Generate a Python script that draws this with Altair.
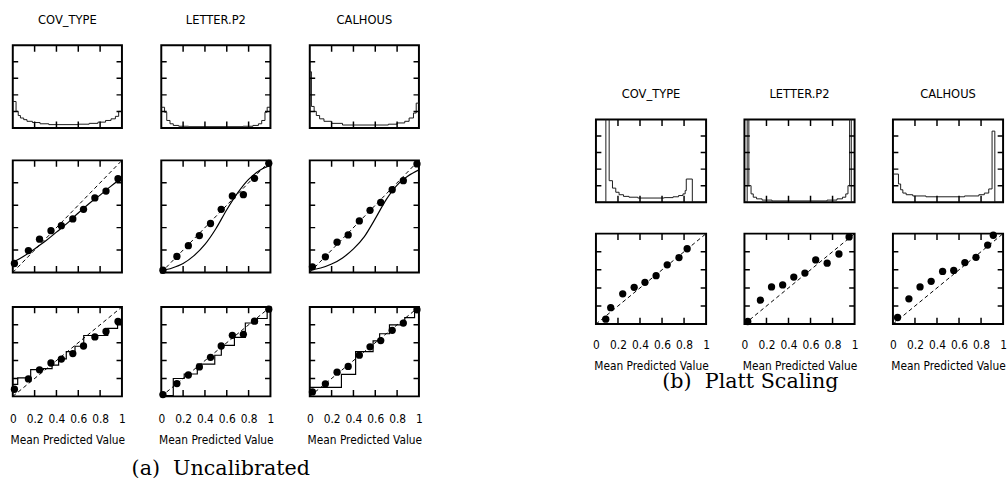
import altair as alt
import pandas as pd

# ---------------- data ----------------
DATASETS = ["COV_TYPE", "LETTER.P2", "CALHOUS"]
TICKS = [0.2, 0.4, 0.6, 0.8]
XLABELS = [0, 0.2, 0.4, 0.6, 0.8, 1]

# Uncalibrated histograms (bin left edges, heights as fraction of panel)
hist_a_cov_edges = [0, .03, .05, .07, .10, .13, .18, .25, .33, .60, .70, .78, .85, .90, .94, .97, 1.0]
hist_a_cov_heights = [.32, .20, .15, .12, .10, .08, .065, .05, .04, .045, .055, .07, .09, .11, .14, .20, .20]
hist_a_let_edges = [0, .03, .05, .08, .11, .16, .25, .75, .84, .89, .92, .95, .97, 1.0]
hist_a_let_heights = [.25, .19, .09, .05, .03, .02, .015, .02, .03, .05, .09, .19, .25, .25]
hist_a_cal_edges = [0, .015, .04, .06, .09, .13, .20, .30, .72, .80, .87, .91, .95, .975, 1.0]
hist_a_cal_heights = [.68, .26, .20, .15, .11, .08, .055, .035, .045, .06, .08, .12, .18, .30, .30]

# Platt-scaled histograms
hist_b_cov_edges = [0, .09, .12, .15, .18, .21, .25, .30, .38, .62, .70, .75, .79, .81, .82, .875, 1.0]
hist_b_cov_heights = [0, 1.5, .26, .17, .12, .09, .07, .06, .05, .055, .065, .08, .10, .14, .28, 0, 0]
hist_b_let_edges = [0, .025, .04, .06, .08, .11, .16, .25, .75, .84, .89, .92, .94, .955, .97, 1.0]
hist_b_let_heights = [0, 1.5, .20, .10, .06, .04, .025, .015, .025, .04, .06, .10, .20, 1.5, 0, 0]
hist_b_cal_edges = [0, .05, .07, .09, .12, .18, .30, .65, .78, .83, .87, .90, .925, 1.0]
hist_b_cal_heights = [.34, .22, .15, .11, .09, .075, .065, .075, .09, .11, .16, .86, 0, 0]

# Reliability points (uncalibrated)
pts_a_cov_x = [.015, .143, .245, .35, .445, .55, .648, .752, .854, .964]
pts_a_cov_y = [.08, .195, .297, .373, .417, .478, .563, .665, .726, .837]
pts_a_let_x = [.015, .143, .248, .349, .451, .549, .651, .752, .854, .985]
pts_a_let_y = [.02, .143, .239, .329, .437, .563, .682, .694, .84, .974]
pts_a_cal_x = [.024, .143, .25, .352, .454, .552, .65, .755, .857, .982]
pts_a_cal_y = [.05, .14, .27, .335, .46, .554, .624, .738, .819, .968]

# Fitted sigmoid curves
curve_x = [0, .1, .2, .3, .4, .5, .6, .7, .8, .9, 1.0]
curve_cov_y = [.09, .145, .21, .28, .36, .44, .53, .615, .69, .77, .845]
curve_let_y = [.015, .04, .08, .15, .25, .39, .56, .71, .83, .91, .955]
curve_cal_y = [.023, .04, .075, .13, .21, .32, .48, .65, .78, .86, .915]

# Isotonic step fits
step_cov_x = [0, .045, .164, .28, .36, .42, .49, .57, .65, .87, .96, 1.0]
step_cov_y = [.135, .207, .30, .31, .35, .42, .50, .56, .68, .76, .84, .84]
step_let_x = [0, .11, .21, .33, .49, .55, .67, .77, .88, .97, 1.0]
step_let_y = [.01, .20, .25, .36, .46, .57, .66, .82, .87, .97, .97]
step_cal_x = [0, .29, .42, .58, .64, .73, .87, .96, 1.0]
step_cal_y = [.10, .245, .50, .62, .70, .80, .88, .98, .98]

# Reliability points (Platt scaling)
pts_b_cov_x = [.089, .134, .243, .347, .445, .546, .647, .754, .828]
pts_b_cov_y = [.055, .182, .335, .407, .462, .535, .655, .735, .833]
pts_b_let_x = [.03, .145, .246, .347, .448, .549, .647, .751, .858, .95]
pts_b_let_y = [.029, .265, .411, .433, .52, .564, .709, .673, .775, .964]
pts_b_cal_x = [.042, .145, .246, .347, .451, .552, .653, .754, .86, .911]
pts_b_cal_y = [.073, .28, .411, .473, .582, .593, .68, .738, .873, .982]

# ---------------- styling ----------------
SANS = "DejaVu Sans Condensed, DejaVu Sans, sans-serif"
SERIF = "DejaVu Serif, serif"
W_A, W_B = 111, 112
H_A = [84, 114, 91]
H_B = [84, 92]

scale = alt.Scale(domain=[0, 1], nice=False, zero=False)
yenc = alt.Y("y:Q", scale=scale, axis=None)


def xenc(bottom, label_pad=18):
    if bottom:
        ax = alt.Axis(values=XLABELS, format="~g", ticks=False, domain=False, grid=False,
                      labelFont=SANS, labelFontSize=12, labelColor="black", labelPadding=label_pad,
                      labelFlush=False, title="Mean Predicted Value", titleFont=SANS,
                      titleFontSize=12, titleFontWeight="normal", titleColor="black",
                      titlePadding=10)
        return alt.X("x:Q", scale=scale, axis=ax)
    return alt.X("x:Q", scale=scale, axis=None)


tick_x_df = pd.DataFrame({"x": TICKS * 2, "y": [0] * 4 + [1] * 4})
tick_y_df = pd.DataFrame({"x": [0] * 4 + [1] * 4, "y": TICKS * 2})
diag_df = pd.DataFrame({"x": [0, 1], "y": [0, 1]})


def tick_layers(xe):
    a = alt.Chart(tick_x_df).mark_tick(orient="vertical", size=13, thickness=1.5,
                                       color="black", clip=True, opacity=1).encode(x=xe, y=yenc)
    b = alt.Chart(tick_y_df).mark_tick(orient="horizontal", size=11, thickness=1.5,
                                       color="black", clip=True, opacity=1).encode(x=xe, y=yenc)
    return [a, b]


def hist_layer(edges, heights, xe):
    df = pd.DataFrame({"x": edges, "y": heights})
    return alt.Chart(df).mark_line(interpolate="step-after", color="#1a1a1a",
                                   strokeWidth=1, clip=True).encode(x=xe, y=yenc)


def points_layer(xs, ys, xe):
    df = pd.DataFrame({"x": xs, "y": ys})
    return alt.Chart(df).mark_circle(size=55, color="black", opacity=1).encode(x=xe, y=yenc)


def diag_layer(xe):
    return alt.Chart(diag_df).mark_line(color="black", strokeWidth=1,
                                        strokeDash=[4, 3]).encode(x=xe, y=yenc)


def line_layer(xs, ys, xe, interp):
    df = pd.DataFrame({"x": xs, "y": ys})
    return alt.Chart(df).mark_line(interpolate=interp, color="black", strokeWidth=1.2,
                                   clip=True).encode(x=xe, y=yenc)


def panel(layers, w, h, title=None):
    ch = alt.layer(*layers).properties(width=w, height=h)
    if title is not None:
        ch = ch.properties(title=alt.TitleParams(title, font=SANS, fontSize=13, fontWeight="normal",
                                                 color="black", anchor="middle", offset=9,
                                                 baseline="alphabetic"))
    return ch


hists_a = [(hist_a_cov_edges, hist_a_cov_heights), (hist_a_let_edges, hist_a_let_heights),
           (hist_a_cal_edges, hist_a_cal_heights)]
hists_b = [(hist_b_cov_edges, hist_b_cov_heights), (hist_b_let_edges, hist_b_let_heights),
           (hist_b_cal_edges, hist_b_cal_heights)]
pts_a = [(pts_a_cov_x, pts_a_cov_y), (pts_a_let_x, pts_a_let_y), (pts_a_cal_x, pts_a_cal_y)]
pts_b = [(pts_b_cov_x, pts_b_cov_y), (pts_b_let_x, pts_b_let_y), (pts_b_cal_x, pts_b_cal_y)]
curves = [curve_cov_y, curve_let_y, curve_cal_y]
steps = [(step_cov_x, step_cov_y), (step_let_x, step_let_y), (step_cal_x, step_cal_y)]

# Section (a): 3 x 3 grid
row_a1, row_a2, row_a3 = [], [], []
for i, name in enumerate(DATASETS):
    xe = xenc(False)
    row_a1.append(panel([hist_layer(*hists_a[i], xe)] + tick_layers(xe), W_A, H_A[0], name))
    row_a2.append(panel([diag_layer(xe), line_layer(curve_x, curves[i], xe, "monotone"),
                         points_layer(*pts_a[i], xe)] + tick_layers(xe), W_A, H_A[1]))
    xb = xenc(True, 18)
    row_a3.append(panel([diag_layer(xb), line_layer(*steps[i], xb, "step-after"),
                         points_layer(*pts_a[i], xb)] + tick_layers(xb), W_A, H_A[2]))

sec_a = alt.concat(
    *(row_a1 + row_a2 + row_a3), columns=3,
    spacing=alt.RowColnumber(row=29, column=30),
    title=alt.TitleParams("(a)\u00a0\u00a0Uncalibrated", orient="bottom", anchor="middle",
                          font=SERIF, fontSize=21, fontWeight="normal", color="black",
                          offset=12, dx=5),
)

# Section (b): 2 x 3 grid, vertically centred against (a)
row_b1, row_b2 = [], []
for i, name in enumerate(DATASETS):
    xe = xenc(False)
    row_b1.append(panel([hist_layer(*hists_b[i], xe)] + tick_layers(xe), W_B, H_B[0], name))
    xb = xenc(True, 16)
    row_b2.append(panel([diag_layer(xb), points_layer(*pts_b[i], xb)] + tick_layers(xb),
                        W_B, H_B[1]))

grid_b = alt.concat(
    *(row_b1 + row_b2), columns=3,
    spacing=alt.RowColnumber(row=27, column=29),
    title=alt.TitleParams("(b)\u00a0\u00a0Platt Scaling", orient="bottom", anchor="middle",
                          font=SERIF, fontSize=21, fontWeight="normal", color="black",
                          offset=-1, dx=-50),
)

spacer = alt.Chart(pd.DataFrame({"x": [0]})).mark_point(opacity=0).encode(
    x=alt.value(2), y=alt.value(2)
).properties(width=20, height=12, view=alt.ViewBackground(strokeWidth=0, strokeOpacity=0))

sec_b = alt.vconcat(grid_b, spacer, spacing=0)

chart = alt.hconcat(sec_a, sec_b, spacing=170, center=True).properties(
    padding={"left": 8, "top": 9, "right": 0, "bottom": 0}, background="white"
).configure_view(stroke="black", strokeWidth=2)

chart.save("out.html", embed_options={"renderer": "svg", "actions": False})
